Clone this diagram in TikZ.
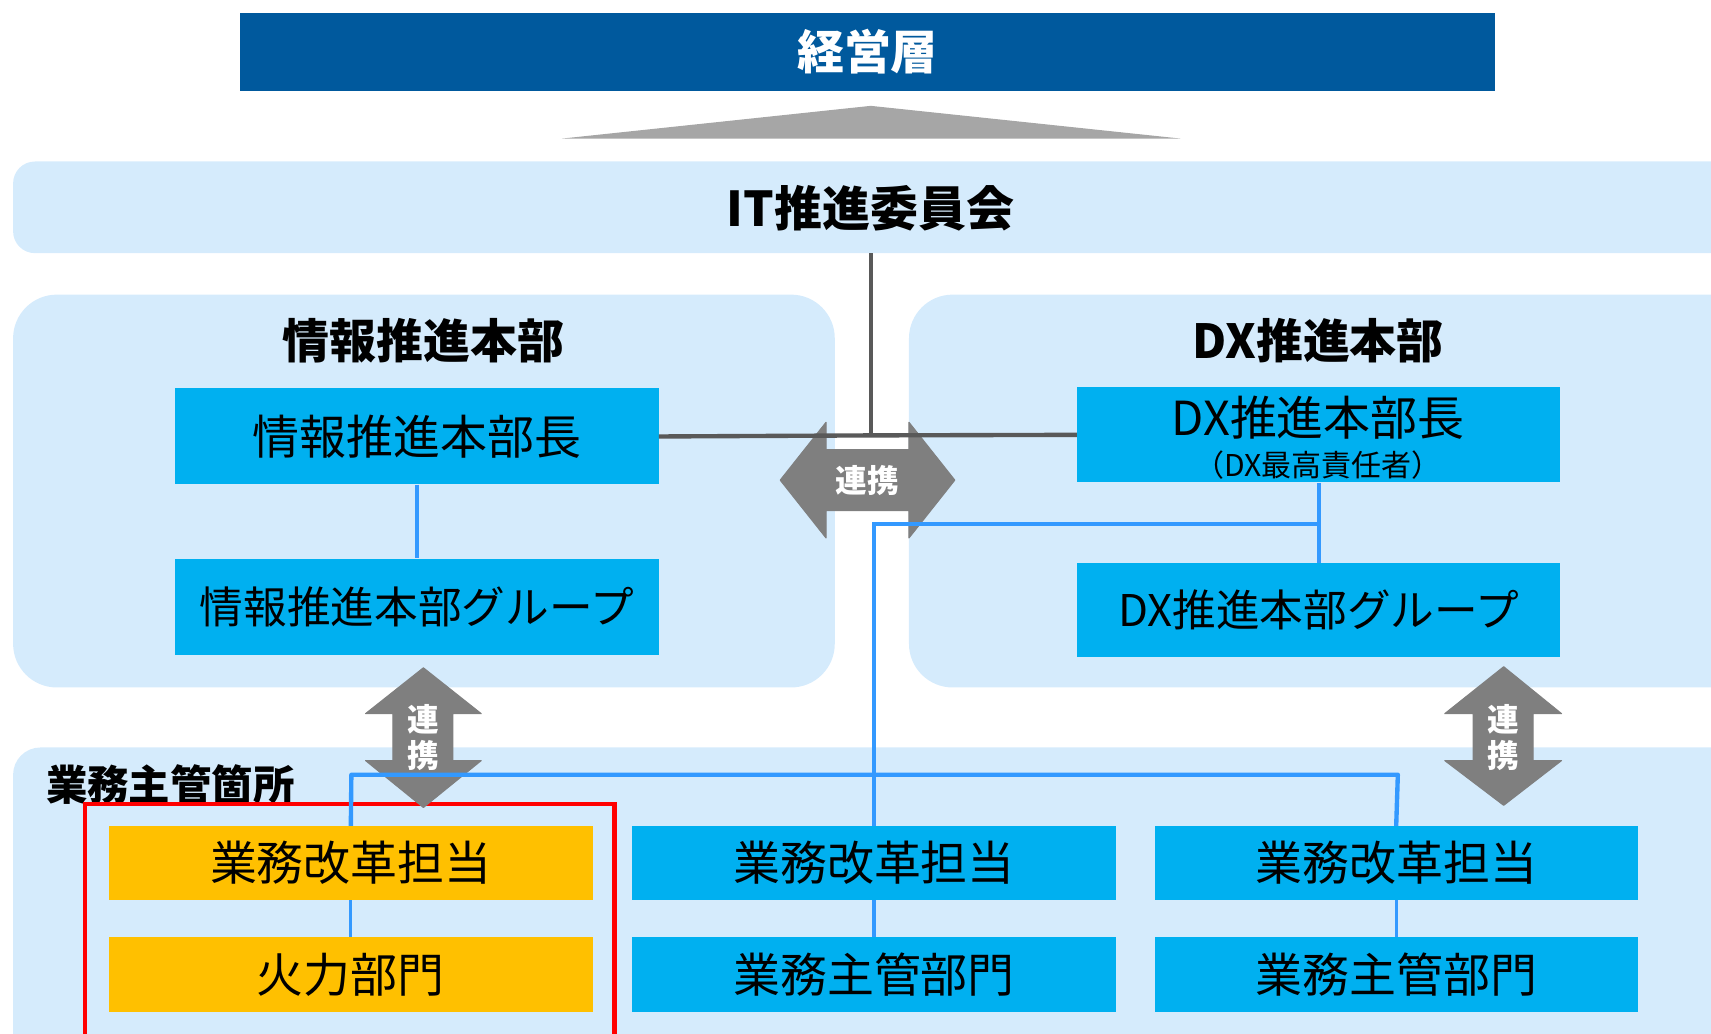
\documentclass[tikz,border=0pt]{standalone}
\usepackage{fontspec}
\setmainfont{Noto Sans CJK JP}
\begin{document}
\begin{tikzpicture}[x=1pt,y=-1pt,
  bbox/.style={fill=cbox,draw=none,minimum width=443pt,minimum height=88pt,inner sep=0pt,font=\fontsize{43}{50}\selectfont},
  sbox/.style={fill=cbox,draw=none,minimum width=443pt,minimum height=68pt,inner sep=0pt,font=\fontsize{43}{50}\selectfont},
  obox/.style={sbox,fill=obx},
  ttl/.style={font=\fontsize{43}{50}\selectfont\bfseries,inner sep=0pt},
  grayline/.style={draw=lgray,line width=4pt},
  blueline/.style={draw=lblue,line width=4pt},
  arr/.style={fill=agray,draw=agray,line width=1pt,line join=round},
  atxt/.style={text=white,font=\fontsize{29}{32}\selectfont\bfseries,inner sep=0pt}]
\definecolor{pbg}{HTML}{D5EBFC}
\definecolor{cbox}{HTML}{00B0F0}
\definecolor{obx}{HTML}{FFC000}
\definecolor{topb}{HTML}{00599D}
\definecolor{lgray}{HTML}{595959}
\definecolor{lblue}{HTML}{3399FF}
\definecolor{agray}{HTML}{7F7F7F}
\definecolor{tgray}{HTML}{A6A6A6}
\useasboundingbox (0,0) rectangle (1568,947);
\clip (0,0) rectangle (1568,947);
% top
\node[fill=topb,minimum width=1150pt,minimum height=71pt,inner sep=0pt,text=white,ttl] (top) at (795,47.5) {経営層};
\fill[tgray] (515,127) -- (798,97) -- (1082,127) -- cycle;
% IT band
\fill[pbg,rounded corners=20pt] (12,148) rectangle (1620,232);
\node[ttl,font=\fontsize{44}{50}\selectfont\bfseries] (it) at (798,191) {IT推進委員会};
\coordinate (itb) at (798,232);
% panels
\fill[pbg,rounded corners=40pt] (12,270) rectangle (765,630);
\fill[pbg,rounded corners=40pt] (833,270) rectangle (1640,630);
\node[ttl] (jh) at (388,312) {情報推進本部};
\node[ttl] (dh) at (1208,312) {DX推進本部};
% bottom band
\fill[pbg,rounded corners=25pt] (12,685) rectangle (1640,1000);
\node[ttl,anchor=west,font=\fontsize{38}{42}\selectfont\bfseries] (gs) at (42,719) {業務主管箇所};
% boxes
\node[bbox] (jl) at (382,400) {情報推進本部長};
\node[bbox,font=\fontsize{40}{48}\selectfont] (jg) at (382,556) {情報推進本部グループ};
\node[bbox,minimum height=87pt] (dl) at (1208.5,398.5) {};
\node[font=\fontsize{43}{50}\selectfont,inner sep=0pt] (dlt) at (1208,383) {DX推進本部長};
\node[font=\fontsize{27.5}{32}\selectfont,inner sep=0pt] (dls) at (1208,426) {（DX最高責任者）};
\node[bbox,minimum height=86pt,font=\fontsize{40}{48}\selectfont] (dg) at (1208.5,559) {DX推進本部グループ};
\node[obox] (b1) at (321.5,791) {業務改革担当};
\node[obox] (c1) at (321.5,893) {火力部門};
\node[sbox] (b2) at (801,791) {業務改革担当};
\node[sbox] (c2) at (801,893) {業務主管部門};
\node[sbox] (b3) at (1279.5,791) {業務改革担当};
\node[sbox] (c3) at (1279.5,893) {業務主管部門};
% red frame
\draw[red,line width=4pt] (78,1000) -- (78,737) -- (563,737) -- (563,1000);
% arrows
\filldraw[arr] (715,440) -- (757,387) -- (757,412) -- (833,412) -- (833,387) -- (875,440) -- (833,493) -- (833,468) -- (757,468) -- (757,493) -- cycle;
\node[atxt] (a1) at (795,440) {連携};
\filldraw[arr] (388,612) -- (441,654) -- (415,654) -- (415,697) -- (441,697) -- (388,740) -- (335,697) -- (360,697) -- (360,654) -- (335,654) -- cycle;
\node[atxt] (a2t) at (388,659) {連};
\node[atxt] (a2b) at (388,692) {携};
\filldraw[arr] (1378,611) -- (1431,654) -- (1405,654) -- (1405,697) -- (1431,697) -- (1378,738) -- (1324,697) -- (1350,697) -- (1350,654) -- (1324,654) -- cycle;
\node[atxt] (a3t) at (1378,659) {連};
\node[atxt] (a3b) at (1378,692) {携};
% gray connectors
\coordinate (gj) at (798,399);
\draw[grayline] (itb) -- (gj);
\draw[grayline] (jl.east) -- (gj) -- (dl.west);
% blue connectors
\draw[blueline] (jl.south) -- (jg.north);
\draw[blueline] (dl.south) -- (dg.north);
\coordinate (dj) at (1208,480);
\draw[blueline] (dj) -| (b2.north);
\coordinate (busL) at (322,710);
\coordinate (busR) at (1281,710);
\draw[blueline,line join=round] (b1.north) -- (busL) -- (busR) -- (b3.north);
\draw[blueline,line width=3pt] (b1.south) -- (c1.north);
\draw[blueline,line width=3pt] (b2.south) -- (c2.north);
\draw[blueline,line width=3pt] (b3.south) -- (c3.north);
\end{tikzpicture}
\end{document}
